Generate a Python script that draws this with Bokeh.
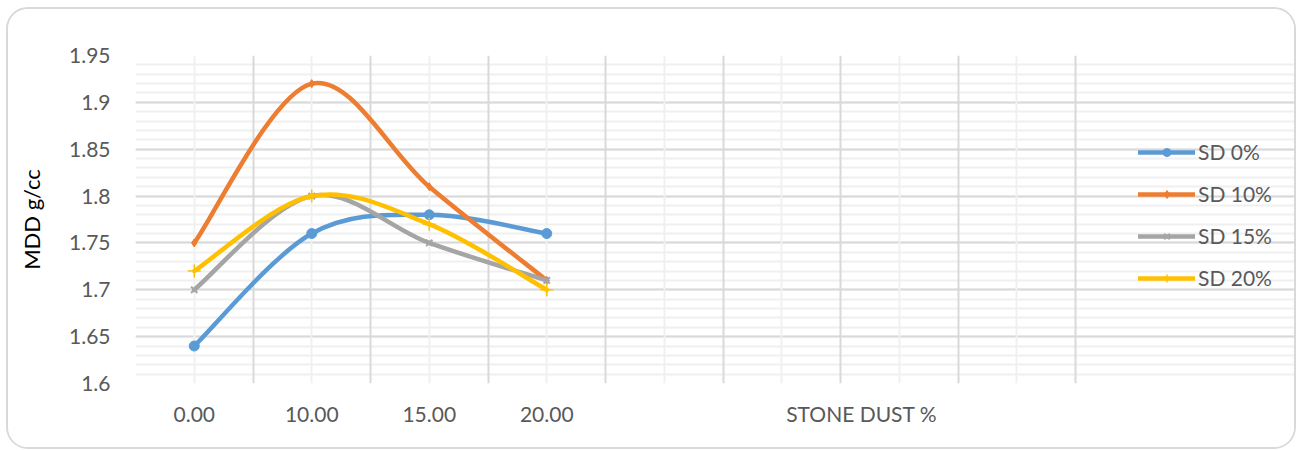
from bokeh.plotting import figure
from bokeh.models import (Range1d, FixedTicker, Grid, Legend, LegendItem,
                          ColumnDataSource)
from bokeh.embed import file_html
from bokeh.resources import INLINE

# Stone dust content (categories) and MDD values per series
categories = ["0.00", "10.00", "15.00", "20.00"]
n_slots = 8
x_title = "STONE DUST %"
x_title_pos = 6.18
series_names = ["SD 0%", "SD 10%", "SD 15%", "SD 20%"]
sd0 = [1.64, 1.76, 1.78, 1.76]
sd10 = [1.75, 1.92, 1.81, 1.71]
sd15 = [1.70, 1.80, 1.75, 1.71]
sd20 = [1.72, 1.80, 1.77, 1.70]
y_tick_labels = ["1.6", "1.65", "1.7", "1.75", "1.8", "1.85", "1.9", "1.95"]

colors = ["#5B9BD5", "#ED7D31", "#A5A5A5", "#FFC000"]
markers = ["circle", "diamond", "x", "cross"]
marker_sizes = [10, 8, 9, 13]
marker_lw = [1, 1, 2, 1.5]

FONT = "Lato"
GREY_TXT = "#595959"

# Canvas layout: the plotting frame spans the slots plus a legend area on the
# right; grid lines are bounded to the slot area only.
W, H = 1290, 442
B_LEFT, B_TOP, B_BOTTOM = 127, 46, 68
SLOT_PX = 117.5
frame_w = W - B_LEFT - 4
x_end = frame_w / SLOT_PX

p = figure(width=W, height=H, output_backend="svg", toolbar_location=None,
           x_range=Range1d(0, x_end), y_range=Range1d(1.6, 1.95),
           min_border_left=B_LEFT, min_border_right=4, min_border_top=B_TOP,
           min_border_bottom=B_BOTTOM,
           styles={"border": "2px solid #d9d9d9", "border-radius": "22px",
                   "margin-left": "6px", "margin-top": "7px",
                   "overflow": "hidden"})
p.outline_line_color = None
p.background_fill_color = "white"
p.border_fill_color = "white"

# x axis: category labels at slot centres, axis title sits in the empty slots
centres = [i + 0.5 for i in range(len(categories))]
p.xaxis.ticker = FixedTicker(ticks=centres + [x_title_pos])
overrides = {c: lab for c, lab in zip(centres, categories)}
overrides[x_title_pos] = x_title
p.xaxis.major_label_overrides = overrides
p.xaxis.axis_line_color = None
p.xaxis.major_tick_line_color = None
p.xaxis.minor_tick_line_color = None
p.xaxis.major_label_text_font = FONT
p.xaxis.major_label_text_font_size = "21px"
p.xaxis.major_label_text_color = GREY_TXT
p.xaxis.major_label_standoff = 11

# y axis
y_ticks = [float(t) for t in y_tick_labels]
y_minor = [round(1.6 + 0.01 * i, 2) for i in range(36)]
p.yaxis.ticker = FixedTicker(ticks=y_ticks, minor_ticks=y_minor)
p.yaxis.major_label_overrides = {v: t for v, t in zip(y_ticks, y_tick_labels)}
p.yaxis.axis_line_color = None
p.yaxis.major_tick_line_color = None
p.yaxis.minor_tick_line_color = None
p.yaxis.major_label_text_font = FONT
p.yaxis.major_label_text_font_size = "21px"
p.yaxis.major_label_text_color = GREY_TXT
p.yaxis.major_label_standoff = 19
p.yaxis.axis_label = "MDD g/cc"
p.yaxis.axis_label_text_font = FONT
p.yaxis.axis_label_text_font_size = "22px"
p.yaxis.axis_label_text_font_style = "normal"
p.yaxis.axis_label_text_color = "#000000"
p.yaxis.axis_label_standoff = 21

# grids, limited to the slot area
p.xgrid.visible = False
minor_x = Grid(dimension=0, ticker=FixedTicker(ticks=[i + 0.5 for i in range(n_slots)]),
               grid_line_color="#f0f0f0", grid_line_width=2)
major_x = Grid(dimension=0, ticker=FixedTicker(ticks=list(range(n_slots + 1))),
               grid_line_color="#d9d9d9", grid_line_width=2)
p.add_layout(minor_x)
p.ygrid.ticker = FixedTicker(ticks=y_ticks, minor_ticks=y_minor)
p.ygrid.bounds = (0, n_slots)
p.ygrid.grid_line_color = "#d9d9d9"
p.ygrid.grid_line_width = 2
p.ygrid.minor_grid_line_color = "#f0f0f0"
p.ygrid.minor_grid_line_width = 2
p.add_layout(major_x)


def smooth_segments(xs, ys):
    """Cubic Bezier segments through the points (Catmull-Rom style, 1/6 tension)."""
    n = len(xs)
    out = dict(x0=[], y0=[], x1=[], y1=[], cx0=[], cy0=[], cx1=[], cy1=[])
    for i in range(n - 1):
        a = max(i - 1, 0)
        b = min(i + 2, n - 1)
        out["x0"].append(xs[i]); out["y0"].append(ys[i])
        out["x1"].append(xs[i + 1]); out["y1"].append(ys[i + 1])
        out["cx0"].append(xs[i] + (xs[i + 1] - xs[a]) / 6)
        out["cy0"].append(ys[i] + (ys[i + 1] - ys[a]) / 6)
        out["cx1"].append(xs[i + 1] - (xs[b] - xs[i]) / 6)
        out["cy1"].append(ys[i + 1] - (ys[b] - ys[i]) / 6)
    return out


items = []
for name, vals, col, mk, ms, mlw in zip(series_names, [sd0, sd10, sd15, sd20],
                                         colors, markers, marker_sizes, marker_lw):
    seg = ColumnDataSource(smooth_segments(centres, vals))
    r_line = p.bezier(x0="x0", y0="y0", x1="x1", y1="y1", cx0="cx0", cy0="cy0",
                      cx1="cx1", cy1="cy1", source=seg, line_color=col,
                      line_width=4.5, line_cap="round")
    r_mark = p.scatter(centres, vals, marker=mk, size=ms, line_color=col,
                       fill_color=col, line_width=mlw)
    items.append(LegendItem(label=name, renderers=[r_line, r_mark]))

legend = Legend(items=items, location=(1003, 93), orientation="vertical",
                border_line_color=None, background_fill_alpha=0,
                label_text_font=FONT, label_text_font_size="21px",
                label_text_color=GREY_TXT, glyph_width=57, glyph_height=20,
                label_height=20, label_standoff=3, spacing=17, padding=0,
                margin=0)
p.add_layout(legend)

open("out.html", "w").write(file_html(p, INLINE))
